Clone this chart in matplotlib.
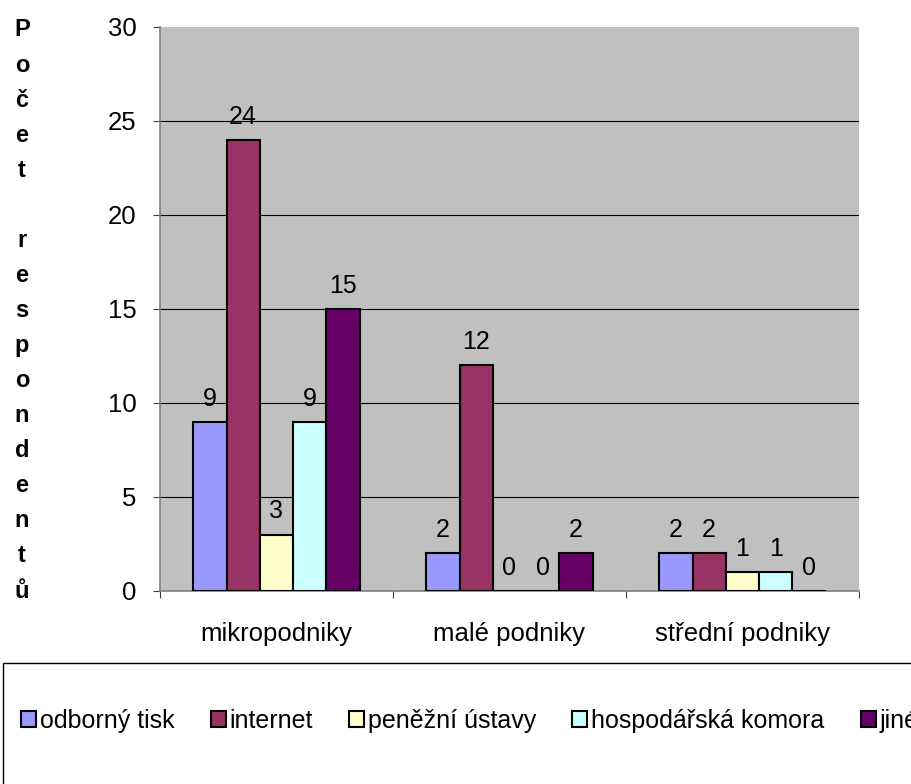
import numpy as np
import matplotlib
matplotlib.use('Agg')
import matplotlib.pyplot as plt
from matplotlib.patches import Rectangle

# data
categories = ['mikropodniky', 'malé podniky', 'střední podniky']
series = ['odborný tisk', 'internet', 'peněžní ústavy', 'hospodářská komora', 'jiné']
values = [
    [9, 2, 2],    # odborný tisk
    [24, 12, 2],  # internet
    [3, 0, 1],    # peněžní ústavy
    [9, 0, 1],    # hospodářská komora
    [15, 2, 0],   # jiné
]
colors = ['#9999FF', '#993366', '#FFFFCC', '#CCFFFF', '#660066']
ylabel = 'Počet respondentů'
yticks = [0, 5, 10, 15, 20, 25, 30]


def main():
    plt.rcParams['font.family'] = ['Liberation Sans', 'DejaVu Sans']
    W, H = 912, 784
    fig = plt.figure(figsize=(W / 100, H / 100), dpi=100)
    # plot area in pixel coords: x 160..859, y 27..591
    ax = fig.add_axes([160 / W, 1 - 591 / H, (859 - 160) / W, (591 - 27) / H])
    ax.set_facecolor('#C0C0C0')

    x = np.arange(len(categories))
    bw = 0.143
    for i, (name, vals, c) in enumerate(zip(series, values, colors)):
        xs = x + (i - 2) * bw
        bars = ax.bar(xs, vals, width=bw, color=c, edgecolor='black', linewidth=1.5,
                      label=name, zorder=3)
        for b, v in zip(bars, vals):
            ax.annotate(str(v), (b.get_x() + b.get_width() / 2, v), xytext=(0, 8),
                        textcoords='offset points', ha='center', va='bottom',
                        fontsize=18, zorder=4)

    for yv in yticks[1:-1]:
        ax.axhline(yv, color='black', lw=0.8, zorder=1)

    ax.set_xlim(-0.5, len(categories) - 0.5)
    ax.set_ylim(0, 30)
    ax.set_yticks(yticks)
    ax.tick_params(axis='y', direction='out', length=5, width=0.8, pad=12,
                   labelsize=18.5, color='#404040')
    ax.set_xticks(np.arange(len(categories) + 1) - 0.5)
    ax.set_xticklabels([])
    ax.tick_params(axis='x', which='major', direction='out', length=5, width=0.8,
                   color='#404040')
    ax.set_xticks(x, minor=True)
    ax.set_xticklabels(categories, minor=True)
    ax.tick_params(axis='x', which='minor', length=0, pad=22, labelsize=18.5)

    for s in ['top', 'right']:
        ax.spines[s].set_visible(False)
    for s in ['left', 'bottom']:
        ax.spines[s].set_color('#808080')
        ax.spines[s].set_linewidth(1.2)

    # vertical stacked y label
    letters = list(ylabel)
    ys = np.linspace(30, 591, len(letters))
    for ch, yp in zip(letters, ys):
        fig.text(22 / W, 1 - yp / H, ch, ha='center', va='center',
                 fontsize=17, fontweight='bold')

    # legend box running off the right/bottom edge
    fig.patches.append(Rectangle((3 / W, -0.1), 1.2, 0.1 + (H - 663) / H,
                                 transform=fig.transFigure, fill=False,
                                 edgecolor='black', linewidth=1, clip_on=False))
    handles, labels = ax.get_legend_handles_labels()
    fig.legend(handles, labels, loc='center left', bbox_to_anchor=(21 / W, 1 - 721 / H),
               ncol=5, frameon=False, fontsize=18, handlelength=0.6, handleheight=0.6,
               handletextpad=0.15, columnspacing=1.45, borderpad=0, borderaxespad=0)

    fig.savefig('out.png', dpi=100)


if __name__ == "__main__":
    main()
